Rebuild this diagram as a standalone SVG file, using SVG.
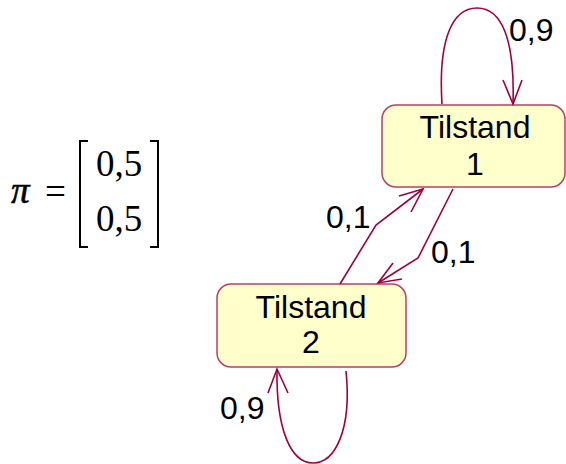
<svg xmlns="http://www.w3.org/2000/svg" width="566" height="464" viewBox="0 0 566 464">
  <style>
    .box { fill: #ffffcc; stroke: #b8406a; stroke-width: 1.5; }
    .lbl { font-family: "Liberation Sans", Arial, sans-serif; font-size: 32px; fill: #000; }
    .edge { fill: none; stroke: #a0003c; stroke-width: 1.6; }
    .math { font-family: "Liberation Serif", "Times New Roman", serif; font-size: 37px; fill: #000; }
  </style>
  <rect width="566" height="464" fill="#ffffff"/>

  <!-- initial distribution vector -->
  <g id="pi-vector">
    <text class="math" x="11" y="203" font-style="italic" font-size="42" stroke="#000" stroke-width="0.6">π</text>
    <text class="math" x="45" y="204" font-size="42">=</text>
    <path d="M88 141 H80 V247 H88" fill="none" stroke="#000" stroke-width="2"/>
    <path d="M150 141 H158 V247 H150" fill="none" stroke="#000" stroke-width="2"/>
    <text class="math" x="119" y="176" text-anchor="middle">0,5</text>
    <text class="math" x="119" y="231" text-anchor="middle">0,5</text>
  </g>

  <!-- states -->
  <g id="state1">
    <rect class="box" x="382" y="105" width="183" height="82" rx="14"/>
    <text class="lbl" x="475" y="138" text-anchor="middle">Tilstand</text>
    <text class="lbl" x="475" y="175" text-anchor="middle">1</text>
  </g>
  <g id="state2">
    <rect class="box" x="217" y="284" width="189" height="83" rx="14"/>
    <text class="lbl" x="311" y="318" text-anchor="middle">Tilstand</text>
    <text class="lbl" x="311" y="353" text-anchor="middle">2</text>
  </g>

  <!-- transitions -->
  <g id="connectors">
    <!-- self loop on state 1 -->
    <path class="edge" d="M442 104 C438 40 452 8 477 8 C502 8 515 40 513 104"/>
    <path class="edge" d="M503 80 L513 104 L522 80"/>
    <!-- state 2 to state 1 -->
    <path class="edge" d="M340 284 L376 225 L423 189"/>
    <path class="edge" d="M399 196 L423 189 L411 212"/>
    <!-- state 1 to state 2 -->
    <path class="edge" d="M453 189 L418 258 L378 283"/>
    <path class="edge" d="M393 263 L378 283 L402 279"/>
    <!-- self loop on state 2 -->
    <path class="edge" d="M346 371 C352 430 335 463 313 463 C291 463 276 430 277 369"/>
    <path class="edge" d="M268 393 L277 369 L288 393"/>
  </g>

  <!-- transition probabilities -->
  <g id="labels">
    <text class="lbl" x="509" y="41">0,9</text>
    <text class="lbl" x="326" y="228">0,1</text>
    <text class="lbl" x="431" y="263">0,1</text>
    <text class="lbl" x="220" y="419">0,9</text>
  </g>
</svg>
